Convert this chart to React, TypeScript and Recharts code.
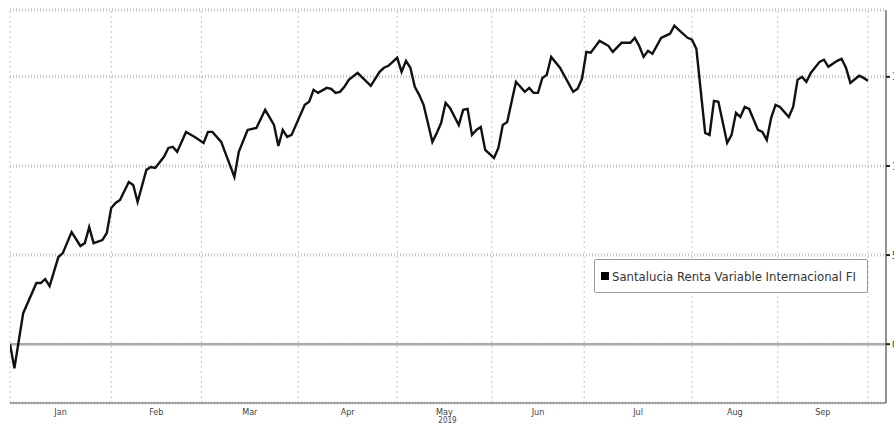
import React from 'react';
import { LineChart, Line, XAxis, YAxis, CartesianGrid, ReferenceLine, Legend } from 'recharts';

// trading-day index since 1 Jan 2019
const tradingDay = [0,1,3,6,7,8,9,11,12,14,16,17,18,19,21,22,23,24,25,27,28,29,31,32,33,35,36,37,38,40,42,44,45,46,48,51,52,54,56,58,60,61,62,63,64,67,68,69,70,72,73,74,75,76,77,79,82,84,85,86,88,89,90,91,92,93,94,96,97,98,99,100,102,103,104,105,106,107,108,110,111,112,113,115,117,118,119,120,121,122,123,125,128,129,130,131,132,134,136,137,139,141,142,143,144,145,146,148,150,151,152,154,155,156,158,159,160,161,163,164,165,166,167,168,170,171,172,173,174,175,177,178,179,180,181,182,184,185,186,188,189,190,191,193,194,195];

// cumulative return (%)
const returnPct = [0,-1.35,1.74,3.43,3.43,3.65,3.26,4.89,5.11,6.29,5.51,5.67,6.57,5.67,5.84,6.24,7.64,7.92,8.09,9.1,8.93,7.98,9.78,9.94,9.89,10.51,11.01,11.07,10.79,11.91,11.63,11.29,11.91,11.91,11.35,9.38,10.79,12.02,12.13,13.15,12.3,11.12,12.02,11.63,11.74,13.43,13.6,14.27,14.1,14.38,14.33,14.1,14.16,14.44,14.83,15.22,14.49,15.28,15.51,15.62,16.07,15.28,15.9,15.51,14.44,13.99,13.43,11.35,11.85,12.42,13.54,13.26,12.3,13.15,13.2,11.74,12.02,12.19,10.9,10.45,11.01,12.3,12.47,14.72,14.16,14.38,14.1,14.1,14.94,15.11,16.12,15.51,14.16,14.33,14.89,16.4,16.35,17.02,16.74,16.4,16.91,16.91,17.19,16.74,16.12,16.46,16.29,17.19,17.42,17.87,17.64,17.19,17.08,16.57,11.85,11.74,13.65,13.6,11.29,11.74,12.98,12.75,13.31,13.2,12.02,11.91,11.46,12.7,13.43,13.31,12.75,13.31,14.83,15.0,14.72,15.22,15.84,15.96,15.56,15.9,16.01,15.51,14.66,15.06,14.94,14.78];

const monthStarts = [0, 23, 43.5, 65.5, 88, 109.5, 130.5, 155, 174.5, 195];
const monthLabels = ['Jan', 'Feb', 'Mar', 'Apr', 'May', 'Jun', 'Jul', 'Aug', 'Sep'];
const yearLabel = '2019';
const yearLabelMonth = 'May';
const yTicks = [0, 5, 10, 15];
const seriesName = 'Santalucia Renta Variable Internacional FI';

const data = tradingDay.map((d, i) => ({ day: d, value: returnPct[i] }));
const monthMids = monthLabels.map((_, i) => (monthStarts[i] + monthStarts[i + 1]) / 2);

const FONT = '"DejaVu Sans Condensed", "Liberation Sans Narrow", sans-serif';

const MonthTick = (props: any) => {
  const { x, y, payload } = props;
  const i = monthMids.indexOf(payload.value);
  const label = monthLabels[i];
  return (
    <g>
      <text x={x} y={y + 4} textAnchor="middle" fontSize={9} fill="#444" fontFamily={FONT}>{label}</text>
      {label === yearLabelMonth && (
        <text x={x + 3} y={y + 12} textAnchor="middle" fontSize={8} fill="#444" fontFamily={FONT}>{yearLabel}</text>
      )}
    </g>
  );
};

const LegendBox = () => (
  <div style={{
    width: 272, height: 32, border: '1px solid #9a9a9a', borderRadius: 2, background: '#fff',
    display: 'flex', alignItems: 'center', boxSizing: 'content-box', fontFamily: FONT,
  }}>
    <span style={{ display: 'inline-block', width: 8, height: 8, background: '#000', marginLeft: 6, marginRight: 3 }} />
    <span style={{ fontSize: 13, color: '#333', whiteSpace: 'nowrap' }}>{seriesName}</span>
  </div>
);

export default function App() {
  return (
    <div style={{ position: 'absolute', left: 0, top: 0, width: 894, height: 427, overflow: 'hidden', background: '#fff' }}>
      <LineChart width={894} height={427} data={data} margin={{ top: 10, right: 0, bottom: 0, left: 10 }}>
        <CartesianGrid yAxisId="r" xAxisId="x" vertical={false} stroke="#c6c6c6" strokeWidth={3} strokeDasharray="1 2" />
        {monthStarts.map((m) => (
          <ReferenceLine key={m} x={m} xAxisId="x" yAxisId="r" stroke="#c4c4c4" strokeWidth={1} strokeDasharray="2 3" />
        ))}
        <ReferenceLine y={0} xAxisId="x" yAxisId="r" stroke="#ababab" strokeWidth={2.5} />
        <XAxis
          xAxisId="x"
          dataKey="day"
          type="number"
          domain={[0, 199.1]}
          allowDataOverflow
          ticks={monthMids}
          tick={<MonthTick />}
          tickLine={false}
          axisLine={{ stroke: '#8a8a8a', strokeWidth: 1.5 }}
          height={24}
          interval={0}
        />
        <YAxis
          yAxisId="r"
          orientation="right"
          type="number"
          domain={[-3.3, 18.75]}
          allowDataOverflow
          ticks={yTicks}
          width={8}
          tickSize={4}
          tickMargin={2}
          axisLine={{ stroke: '#6e6e6e', strokeWidth: 1.5 }}
          tickLine={{ stroke: '#222', strokeWidth: 2 }}
          tick={{ fontSize: 10, fill: '#333', fontFamily: FONT }}
        />
        <Legend
          layout="vertical"
          align="center"
          verticalAlign="middle"
          wrapperStyle={{ position: 'absolute', left: 594, top: 259, width: 274, height: 34 }}
          content={() => <LegendBox />}
        />
        <Line
          xAxisId="x"
          yAxisId="r"
          type="linear"
          dataKey="value"
          name={seriesName}
          stroke="#111"
          strokeWidth={2.4}
          dot={false}
          isAnimationActive={false}
        />
      </LineChart>
    </div>
  );
}
